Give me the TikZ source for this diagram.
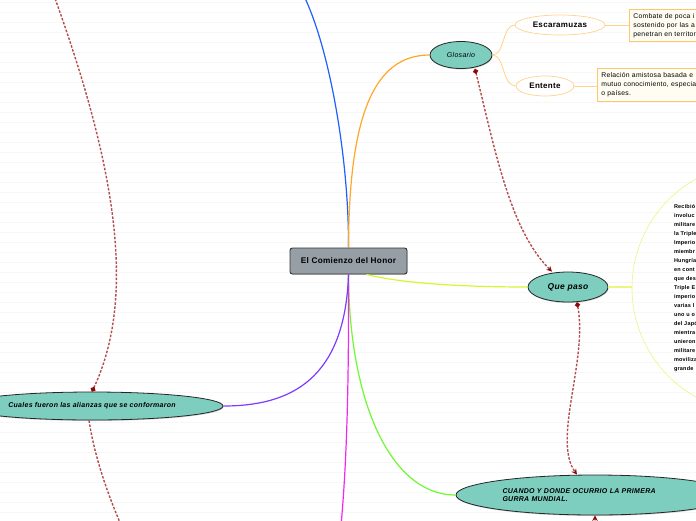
\documentclass[tikz,border=0pt]{standalone}
\usepackage{fontspec}
\setmainfont{Liberation Sans}
\newfontfamily\mapfont[LetterSpace=4]{Liberation Sans}
\usetikzlibrary{shapes.geometric,arrows.meta,shadows}

\definecolor{topicfill}{RGB}{126,206,192}
\definecolor{rootfill}{RGB}{150,158,166}
\definecolor{linkred}{RGB}{178,78,78}
\definecolor{dotred}{RGB}{140,10,10}
\definecolor{branchblue}{RGB}{30,95,255}
\definecolor{branchorange}{RGB}{255,168,40}
\definecolor{branchlime}{RGB}{215,245,50}
\definecolor{branchgreen}{RGB}{110,250,50}
\definecolor{branchpurple}{RGB}{125,60,255}
\definecolor{branchmagenta}{RGB}{240,40,240}
\definecolor{paleorange}{RGB}{255,210,140}
\definecolor{noteline}{RGB}{250,200,110}
\definecolor{notefill}{RGB}{255,253,242}
\definecolor{paleyellow}{RGB}{236,245,130}

\begin{document}
\begin{tikzpicture}[x=1pt, y=-1pt]
    \tikzstyle{root} = [rectangle, rounded corners=2.5pt, draw=black!80, line width=0.9pt, fill=rootfill, minimum width=117pt, minimum height=26pt, font=\mapfont\bfseries\fontsize{8.2}{10}\selectfont, drop shadow={shadow xshift=0.6pt, shadow yshift=-0.8pt, opacity=0.35}]
    \tikzstyle{topic} = [ellipse, draw=black!85, line width=0.8pt, fill=topicfill, inner sep=0pt, drop shadow={shadow xshift=0.6pt, shadow yshift=-1pt, opacity=0.35}]
    \tikzstyle{subtopic} = [ellipse, draw=paleorange, line width=0.7pt, fill=white, inner sep=0pt, font=\mapfont\bfseries\fontsize{8}{10}\selectfont]
    \tikzstyle{note} = [rectangle, draw=noteline, fill=notefill, line width=0.7pt, anchor=north west, align=left, inner sep=4pt, minimum height=32pt, font=\mapfont\fontsize{6.8}{9}\selectfont]
    \tikzstyle{branch} = [line width=1.2pt]
    \tikzstyle{twig} = [draw=paleorange, line width=0.8pt]
    \tikzstyle{link} = [draw=linkred, line width=1.4pt, dash pattern=on 2.5pt off 1.6pt]
    \tikzstyle{linkends} = [{Circle[length=5pt,color=dotred]}-{Stealth[length=5.5pt,width=5.5pt,color=dotred]}]

    \useasboundingbox (0,0) rectangle (696,520);
    \clip (0,0) rectangle (696,520);
    % ruled paper
    \fill[white] (0,0) rectangle (696,520);
    \foreach \ry in {2,12,...,512}
        \draw[black!3, line width=0.5pt] (0,\ry) -- (696,\ry);

    \node[root] (root) at (348.5,261) {El Comienzo del Honor};

    % glosario
    \node[topic, minimum width=62pt, minimum height=27pt, font=\mapfont\itshape\fontsize{7}{9}\selectfont] (glosario) at (461,55) {Glosario};
    \node[subtopic, minimum width=90pt, minimum height=20pt] (escaramuzas) at (560,25) {Escaramuzas};
    \node[subtopic, minimum width=58pt, minimum height=20pt] (entente) at (545,86) {Entente};
    \node[note, text width=110pt] (escnote) at (629,9) {Combate de poca i\\sostenido por las a\\penetran en territor};
    \node[note, text width=120pt, minimum height=33pt] (entnote) at (597,68) {Relación amistosa basada e\\mutuo conocimiento, especia\\o países.};

    % que paso
    \node[topic, minimum width=80pt, minimum height=30pt, font=\mapfont\bfseries\itshape\fontsize{8.5}{10}\selectfont] (quepaso) at (568,287) {Que paso};
    \node[circle, draw=paleyellow, line width=0.6pt, minimum size=250pt, inner sep=0pt, text width=166pt, align=left, font=\mapfont\bfseries\fontsize{5.5}{9}\selectfont] (quetext) at (757,288) {Recibió\\involuc\\militare\\la Triple\\Imperio\\miembr\\Hungría\\en cont\\que des\\Triple E\\imperio\\varias l\\uno u o\\del Japó\\mientra\\unieron\\militare\\moviliza\\grande};

    % alianzas y cuando
    \node[topic, minimum width=262pt, minimum height=28pt, font=\mapfont\bfseries\itshape\fontsize{7}{9}\selectfont] (alianzas) at (92,406) {Cuales fueron las alianzas que se conformaron};
    \node[topic, minimum width=278pt, minimum height=40pt, text width=185pt, align=left, font=\mapfont\bfseries\itshape\fontsize{7}{8.5}\selectfont] (cuando) at (595,495) {CUANDO Y DONDE OCURRIO LA PRIMERA\\GURRA MUNDIAL.};

    \coordinate (bluetop) at (304,-4);
    \coordinate (magentabot) at (341,526);
    \coordinate (alianzastop) at (52,-10);
    \coordinate (alianzasbot) at (124,532);
    \coordinate (cuandobot) at (593,545);

    % branches
    \draw[branch, draw=branchblue] (root.north) .. controls (349,160) and (330,50) .. (bluetop);
    \draw[branch, draw=branchorange] (root.north) .. controls (349,120) and (372,55) .. (glosario.west);
    \draw[branch, draw=branchlime] ([xshift=18pt]root.south) .. controls (400,283) and (460,287) .. (quepaso.west);
    \draw[branch, draw=branchgreen] (root.south) .. controls (349,400) and (390,495) .. (cuando.west);
    \draw[branch, draw=branchmagenta] (root.south) .. controls (349,400) and (346,470) .. (magentabot);
    \draw[branch, draw=branchpurple] (root.south) .. controls (345,380) and (290,406) .. (alianzas.east);

    \draw[twig] (glosario.east) .. controls (505,55) and (502,25) .. (escaramuzas.west);
    \draw[twig] (glosario.east) .. controls (505,55) and (502,86) .. (entente.west);
    \draw[twig] (escaramuzas.east) -- (escaramuzas.east -| escnote.west);
    \draw[twig] (entente.east) -- (entente.east -| entnote.west);
    \draw[draw=paleyellow, line width=1.5pt] (quepaso.east) -- (quepaso.east -| quetext.west);

    % links
    \draw[link, linkends] ([xshift=14pt]glosario.south) .. controls (495,150) and (510,230) .. ([xshift=-16pt]quepaso.north);
    \draw[link, linkends] ([xshift=9pt]quepaso.south) .. controls (588,360) and (552,440) .. ([xshift=-18pt]cuando.north);
    \draw[link, -{Stealth[length=5.5pt,width=5.5pt,color=dotred]}] (cuandobot) .. controls (594,530) and (595,525) .. (cuando.south);
    \draw[link, linkends] (alianzas.north) .. controls (140,290) and (110,150) .. (alianzastop);
    \draw[link] ([xshift=-3pt]alianzas.south) .. controls (95,460) and (110,500) .. (alianzasbot);
\end{tikzpicture}
\end{document}
